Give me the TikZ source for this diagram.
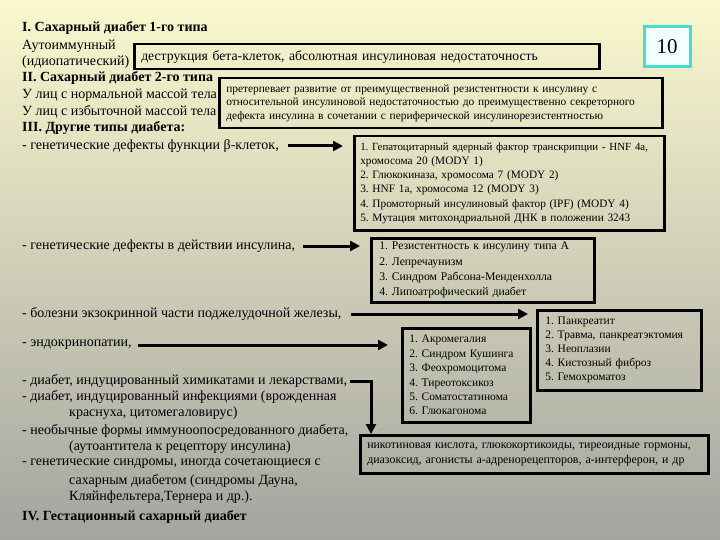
\documentclass[tikz,border=0pt]{standalone}
\usepackage{fontspec}
\setmainfont{Liberation Serif}
\usetikzlibrary{arrows.meta}
\definecolor{bgtop}{RGB}{250,248,206}
\definecolor{bgmid}{RGB}{220,220,192}
\definecolor{bgbot}{RGB}{164,164,160}
\definecolor{cyanb}{RGB}{64,222,208}
\definecolor{numfill}{RGB}{244,255,255}
\begin{document}
\frenchspacing
\begin{tikzpicture}[x=1pt,y=-1pt,
  head/.style={anchor=west,inner sep=0pt,font=\fontsize{14}{15}\selectfont\bfseries},
  lt/.style={anchor=west,inner sep=0pt,font=\fontsize{14}{15}\selectfont},
  bx/.style={draw=black,line width=2.5pt,anchor=north west,inner xsep=7pt,inner ysep=0pt,align=left},
  arr/.style={line width=3pt,-{Triangle[length=10pt,width=10pt]}}]
\shade[top color=bgtop,middle color=bgmid,bottom color=bgbot] (0,0) rectangle (720,540);
\useasboundingbox (0,0) rectangle (720,540);

% number box
\node[draw=cyanb,line width=3pt,fill=numfill,minimum width=46pt,minimum height=40pt,inner sep=0pt,
  font=\fontsize{21}{22}\selectfont] (num) at (667,47) {10};

% left column
\node[head] (h1) at (22,28) {I. Сахарный диабет 1-го типа};
\node[lt] (a1) at (22,46) {Аутоиммунный};
\node[lt] (a2) at (22,62) {(идиопатический)};
\node[head] (h2) at (22,78) {II. Сахарный диабет 2-го типа};
\node[lt] (b1) at (22,95) {У лиц с нормальной массой тела};
\node[lt] (b2) at (22,112) {У лиц с избыточной массой тела};
\node[head] (h3) at (22,128) {III. Другие типы диабета:};
\node[lt] (t3) at (22,146) {- генетические дефекты функции β-клеток,};
\node[lt] (t4) at (22,246) {- генетические дефекты в действии инсулина,};
\node[lt] (t5) at (22,314) {- болезни экзокринной части поджелудочной железы,};
\node[lt] (t6) at (22,345) {- эндокринопатии,};
\node[lt] (t7) at (22,381) {- диабет, индуцированный химикатами и лекарствами,};
\node[lt] (t8) at (22,397) {- диабет, индуцированный инфекциями (врожденная};
\node[lt] (t8b) at (69,413) {краснуха, цитомегаловирус)};
\node[lt] (t9) at (22,431) {- необычные формы иммуноопосредованного диабета,};
\node[lt] (t9b) at (69,447) {(аутоантитела к рецептору инсулина)};
\node[lt] (t10) at (22,464) {- генетические синдромы, иногда сочетающиеся с};
\node[lt] (t10b) at (69,481) {сахарным диабетом (синдромы Дауна,};
\node[lt] (t10c) at (69,497) {Кляйнфельтера,Тернера и др.).};
\node[head] (h4) at (22,517) {IV. Гестационный сахарный диабет};

% boxes
\node[bx,text width=451pt,minimum height=25pt,font=\fontsize{13.7}{15}\selectfont] (box1) at (133,43)
  {деструкция бета-клеток, абсолютная инсулиновая недостаточность};
\node[bx,text width=429pt,minimum height=50pt,font=\fontsize{11.4}{13.5}\selectfont] (box2) at (218,77)
  {претерпевает развитие от преимущественной резистентности к инсулину с\\
   относительной инсулиновой недостаточностью до преимущественно секреторного\\
   дефекта инсулина в сочетании с периферической инсулинорезистентностью};
\node[bx,inner xsep=6pt,text width=298pt,minimum height=94pt,font=\fontsize{11.3}{14.3}\selectfont] (box3) at (353,135)
  {{\fontsize{10.9}{14.3}\selectfont 1. Гепатоцитарный ядерный фактор транскрипции - HNF 4a,}\\
   хромосома 20 (MODY 1)\\
   2. Глюкокиназа, хромосома 7 (MODY 2)\\
   3. HNF 1a, хромосома 12 (MODY 3)\\
   4. Промоторный инсулиновый фактор (IPF) (MODY 4)\\
   5. Мутация митохондриальной ДНК в положении 3243};
\node[bx,inner xsep=8pt,text width=207pt,minimum height=64pt,font=\fontsize{11.7}{15.3}\selectfont] (box4) at (370,237)
  {1. Резистентность к инсулину типа А\\
   2. Лепречаунизм\\
   3. Синдром Рабсона-Менденхолла\\
   4. Липоатрофический диабет};
\node[bx,inner xsep=8pt,text width=148pt,minimum height=80pt,font=\fontsize{11.5}{14}\selectfont] (box5) at (536,309)
  {1. Панкреатит\\
   2. Травма, панкреатэктомия\\
   3. Неоплазии\\
   4. Кистозный фиброз\\
   5. Гемохроматоз};
\node[bx,text width=114pt,minimum height=94pt,font=\fontsize{11.5}{14.4}\selectfont] (box6) at (401,327)
  {1. Акромегалия\\
   2. Синдром Кушинга\\
   3. Феохромоцитома\\
   4. Тиреотоксикоз\\
   5. Соматостатинома\\
   6. Глюкагонома};
\node[bx,text width=334pt,minimum height=38pt,font=\fontsize{11.9}{15.5}\selectfont] (box7) at (359,434)
  {никотиновая кислота, глюкокортикоиды, тиреоидные гормоны,\\
   диазоксид, агонисты a-адренорецепторов, a-интерферон, и др};

% connectors
\coordinate (c7) at ([xshift=12pt]box7.north west);
\draw[arr,shorten >=10pt] ([xshift=9pt]t3.east) -- (box3.west |- t3.east);
\draw[arr,shorten >=10pt] ([xshift=8pt]t4.east) -- (box4.west |- t4.east);
\draw[arr,shorten >=8pt] ([xshift=9pt]t5.east) -- (box5.west |- t5.east);
\draw[arr,shorten >=13pt] ([xshift=6pt]t6.east) -- (box6.west |- t6.east);
\draw[arr] ([xshift=3pt]t7.east) -| (c7);
\end{tikzpicture}
\end{document}
